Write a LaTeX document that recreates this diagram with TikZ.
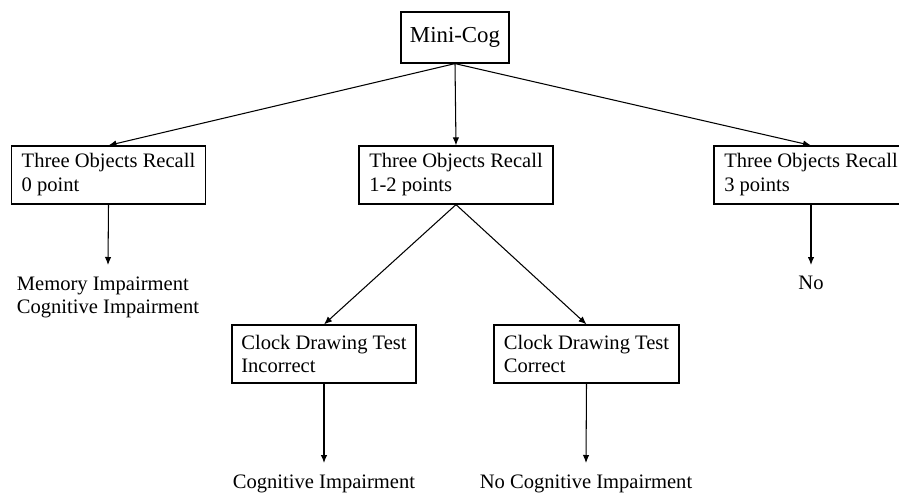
\documentclass[tikz,border=0pt]{standalone}
\usepackage{fontspec}
\setmainfont{Liberation Serif}
\usepackage{tikz}
\usetikzlibrary{arrows.meta}

\begin{document}
\begin{tikzpicture}[x=0.02cm, y=-0.02cm, line width=0.6pt,
    >={Latex[length=1.6mm,width=1.3mm]},
    box/.style={draw, line width=0.7pt, align=left, minimum width=3.88cm,
      minimum height=1.16cm, inner sep=0pt, font=\fontsize{11.7}{13.6}\selectfont},
    leaf/.style={align=left, inner sep=0.22cm, font=\fontsize{11.7}{13.4}\selectfont}]
        \useasboundingbox (0,0) rectangle (899,493);
        \clip (0,0) rectangle (899,493);

        % Raiz
        \node[box, minimum width=2.16cm, minimum height=1.02cm,
          font=\fontsize{13}{15}\selectfont] (cog) at (455,37.5) {Mini-Cog};

        % Primeiro nivel
        \node[box] (zero) at (108.5,175) {Three Objects Recall\\0 point};
        \node[box] (meio) at (456,175) {Three Objects Recall\\1-2 points};
        \node[box] (tres) at (811,175) {Three Objects Recall\\3 points};

        \draw[->] (cog.south) -- (zero.north);
        \draw[->] (cog.south) -- (meio.north);
        \draw[->] (cog.south) -- (tres.north);

        \node[leaf, anchor=north] (mem) at (108,265) {Memory Impairment\\Cognitive Impairment};
        \node[leaf, anchor=north] (nao) at (811,265) {No};
        \draw[->] (zero.south) -- (mem.north);
        \draw[->] (tres.south) -- (nao.north);

        % Segundo nivel
        \node[box, minimum width=3.68cm] (erro) at (324,354) {Clock Drawing Test\\Incorrect};
        \node[box, minimum width=3.7cm] (certo) at (586.5,354) {Clock Drawing Test\\Correct};
        \draw[->] (meio.south) -- (erro.north);
        \draw[->] (meio.south) -- (certo.north);

        \node[leaf, anchor=north] (ci) at (324,463) {Cognitive Impairment};
        \node[leaf, anchor=north] (nci) at (586,463) {No Cognitive Impairment};
        \draw[->] (erro.south) -- (ci.north);
        \draw[->] (certo.south) -- (nci.north);
    \end{tikzpicture}
\end{document}
